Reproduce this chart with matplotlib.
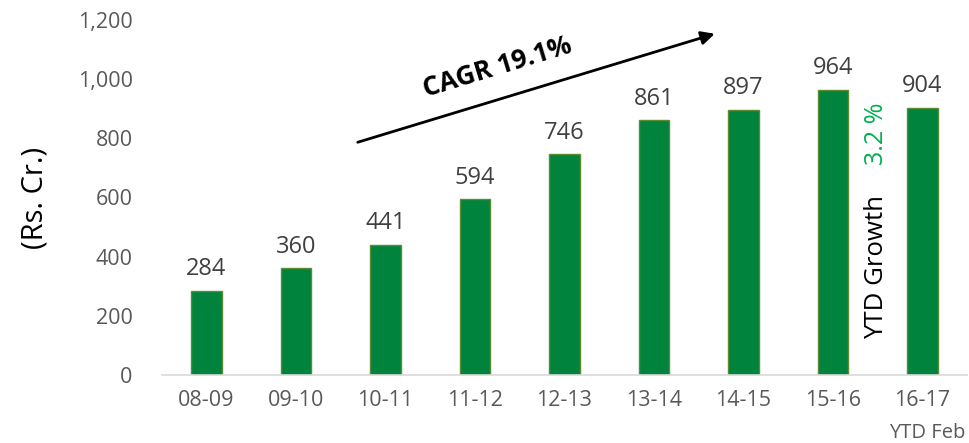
import matplotlib
matplotlib.use("Agg")
import matplotlib.pyplot as plt
from matplotlib.ticker import FuncFormatter

categories = ["08-09", "09-10", "10-11", "11-12", "12-13", "13-14", "14-15", "15-16", "16-17"]
values = [284, 360, 441, 594, 746, 861, 897, 964, 904]
yticks = [0, 200, 400, 600, 800, 1000, 1200]

plt.rcParams['font.family'] = ['Open Sans', 'DejaVu Sans']

fig = plt.figure(figsize=(9.69, 4.43), dpi=100)
ax = fig.add_axes([0.167, 0.1535, 0.831, 0.8014])

x = list(range(len(categories)))
ax.bar(x, values, width=0.34, color="#00843D", edgecolor="#5B8C32", linewidth=1.0, zorder=2)

for xi, v in zip(x, values):
    ax.annotate(f"{v}", (xi, v), xytext=(0, 7), textcoords="offset points",
                ha="center", va="bottom", fontsize=17, color="#404040")

ax.set_xlim(-0.5, 8.5)
ax.set_ylim(0, 1200)
ax.set_yticks(yticks)
ax.yaxis.set_major_formatter(FuncFormatter(lambda v, p: f"{int(v):,}"))
ax.set_xticks(x)
ax.set_xticklabels(categories)
ax.tick_params(axis='both', length=0, labelsize=15.5, colors="#595959")
ax.tick_params(axis='x', pad=11)
ax.tick_params(axis='y', pad=21)
for s in ["top", "right", "left"]:
    ax.spines[s].set_visible(False)
ax.spines["bottom"].set_color("#D9D9D9")
ax.spines["bottom"].set_linewidth(1.2)

ax.set_ylabel("(Rs. Cr.)", fontsize=21, color="black", labelpad=20)

# YTD Feb sub-label
ax.text(8.05, -195, "YTD Feb", ha="center", va="center", fontsize=14.5, color="#595959")

# CAGR arrow and text
ax.annotate("", xy=(5.71, 1156), xytext=(1.66, 784),
            arrowprops=dict(arrowstyle="-|>", color="black", lw=2, mutation_scale=20))
ax.text(3.25, 1040, "CAGR 19.1%", rotation=17, ha="center", va="center",
        fontsize=19, fontweight="bold", color="black", rotation_mode="anchor")

# YTD growth annotation
ax.text(7.49, 815, "3.2 %", rotation=90, ha="center", va="center", fontsize=18, color="#00B050")
ax.text(7.49, 365, "YTD Growth", rotation=90, ha="center", va="center", fontsize=18.5, color="black")

fig.savefig("out.png", dpi=100)
